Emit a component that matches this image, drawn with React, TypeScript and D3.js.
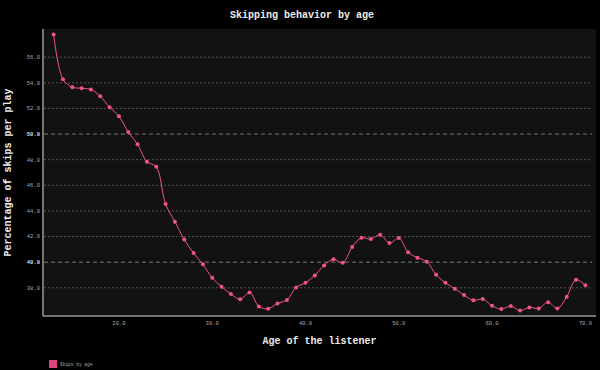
import { useEffect, useRef } from 'react';
import * as d3 from 'd3';

// age of listener, 13..70
const ages = [
  13, 14, 15, 16, 17, 18, 19, 20, 21, 22, 23, 24, 25, 26, 27, 28, 29, 30, 31, 32,
  33, 34, 35, 36, 37, 38, 39, 40, 41, 42, 43, 44, 45, 46, 47, 48, 49, 50, 51, 52,
  53, 54, 55, 56, 57, 58, 59, 60, 61, 62, 63, 64, 65, 66, 67, 68, 69, 70,
];

// percentage of skips per play
const skips = [
  57.77, 54.28, 53.66, 53.58, 53.47, 52.95, 52.09, 51.39, 50.16, 49.2,
  47.84, 47.45, 44.54, 43.16, 41.78, 40.71, 39.83, 38.78, 38.08, 37.52,
  37.1, 37.64, 36.55, 36.36, 36.78, 37.04, 38.03, 38.39, 38.97, 39.75,
  40.22, 39.95, 41.18, 41.91, 41.8, 42.14, 41.49, 41.88, 40.77, 40.35,
  40.03, 39.02, 38.39, 37.92, 37.43, 37.02, 37.12, 36.59, 36.34, 36.57,
  36.23, 36.47, 36.39, 36.88, 36.39, 37.3, 38.63, 38.19,
];

const yTicks = [38, 40, 42, 44, 46, 48, 50, 52, 54, 56];
const xTicks = [20, 30, 40, 50, 60, 70];
const majorY = [40, 50];

const W = 600;
const H = 370;
const margin = { top: 29, right: 4, bottom: 54, left: 43 };
const font = '"Liberation Mono", "DejaVu Sans Mono", monospace';
const pink = '#f0538c';

export default function App() {
  const svgRef = useRef<SVGSVGElement>(null);

  useEffect(() => {
    if (!svgRef.current) return;
    const svg = d3.select(svgRef.current);
    svg.selectAll('*').remove();

    const data = ages.map((a, i) => ({ x: a, y: skips[i] }));
    const x0 = d3.min(ages)!, x1 = d3.max(ages)!;
    const y0 = d3.min(skips)!, y1 = d3.max(skips)!;
    const px = (x1 - x0) * 0.02, py = (y1 - y0) * 0.02;

    const left = margin.left, right = W - margin.right;
    const top = margin.top, bottom = H - margin.bottom;

    const x = d3.scaleLinear().domain([x0 - px, x1 + px]).range([left, right]);
    const y = d3.scaleLinear().domain([y0 - py, y1 + py]).range([bottom, top]);

    svg.append('rect').attr('width', W).attr('height', H).attr('fill', '#000');
    svg.append('rect')
      .attr('x', left).attr('y', top)
      .attr('width', right - left).attr('height', bottom - top)
      .attr('fill', '#121212');

    // grid
    svg.append('g')
      .selectAll('line')
      .data(yTicks)
      .join('line')
      .attr('x1', left + 1).attr('x2', right - 4)
      .attr('y1', d => y(d)).attr('y2', d => y(d))
      .attr('stroke', d => majorY.includes(d) ? '#777' : '#555')
      .attr('stroke-width', 1)
      .attr('stroke-dasharray', d => majorY.includes(d) ? '4,3' : '2,2');

    // y tick labels
    svg.append('g')
      .selectAll('text')
      .data(yTicks)
      .join('text')
      .attr('x', left - 3)
      .attr('y', d => y(d))
      .attr('dy', '0.35em')
      .attr('text-anchor', 'end')
      .style('font-family', font)
      .style('font-size', '5.5px')
      .style('font-weight', d => majorY.includes(d) ? 'bold' : 'normal')
      .style('fill', d => majorY.includes(d) ? '#ddd' : '#aaa')
      .text(d => d3.format('.1f')(d));

    // x tick labels
    svg.append('g')
      .selectAll('text')
      .data(xTicks)
      .join('text')
      .attr('x', d => x(d))
      .attr('y', bottom + 9)
      .attr('text-anchor', 'middle')
      .style('font-family', font)
      .style('font-size', '5.5px')
      .style('fill', '#aaa')
      .text(d => d3.format('.1f')(d));

    // axis lines
    svg.append('line')
      .attr('x1', left).attr('x2', left).attr('y1', top).attr('y2', bottom)
      .attr('stroke', '#999').attr('stroke-width', 1.5);
    svg.append('line')
      .attr('x1', left).attr('x2', right).attr('y1', bottom).attr('y2', bottom)
      .attr('stroke', '#999').attr('stroke-width', 1.5);

    // line + dots
    const line = d3.line<{ x: number; y: number }>()
      .x(d => x(d.x))
      .y(d => y(d.y))
      .curve(d3.curveCatmullRom);

    svg.append('path')
      .datum(data)
      .attr('fill', 'none')
      .attr('stroke', pink)
      .attr('stroke-width', 1)
      .attr('d', line);

    svg.append('g')
      .selectAll('circle')
      .data(data)
      .join('circle')
      .attr('cx', d => x(d.x))
      .attr('cy', d => y(d.y))
      .attr('r', 2)
      .attr('fill', pink);

    // titles
    svg.append('text')
      .attr('x', 302).attr('y', 18)
      .attr('text-anchor', 'middle')
      .style('font-family', font).style('font-size', '10px').style('font-weight', 'bold')
      .style('fill', '#eee')
      .text('Skipping behavior by age');

    svg.append('text')
      .attr('x', (left + right) / 2).attr('y', 344)
      .attr('text-anchor', 'middle')
      .style('font-family', font).style('font-size', '10px').style('font-weight', 'bold')
      .style('fill', '#eee')
      .text('Age of the listener');

    svg.append('text')
      .attr('transform', `translate(11,${(top + bottom) / 2}) rotate(-90)`)
      .attr('text-anchor', 'middle')
      .style('font-family', font).style('font-size', '10px').style('font-weight', 'bold')
      .style('fill', '#eee')
      .text('Percentage of skips per play');

    // legend
    svg.append('rect')
      .attr('x', 49).attr('y', 360).attr('width', 8).attr('height', 8)
      .attr('fill', '#e0447f');
    svg.append('text')
      .attr('x', 60).attr('y', 366)
      .style('font-family', font).style('font-size', '4.5px')
      .style('fill', '#aaa')
      .text('Skips by age');
  }, []);

  return (
    <svg
      ref={svgRef}
      width={W}
      height={H}
      style={{ position: 'absolute', left: 0, top: 0, display: 'block' }}
    />
  );
}
